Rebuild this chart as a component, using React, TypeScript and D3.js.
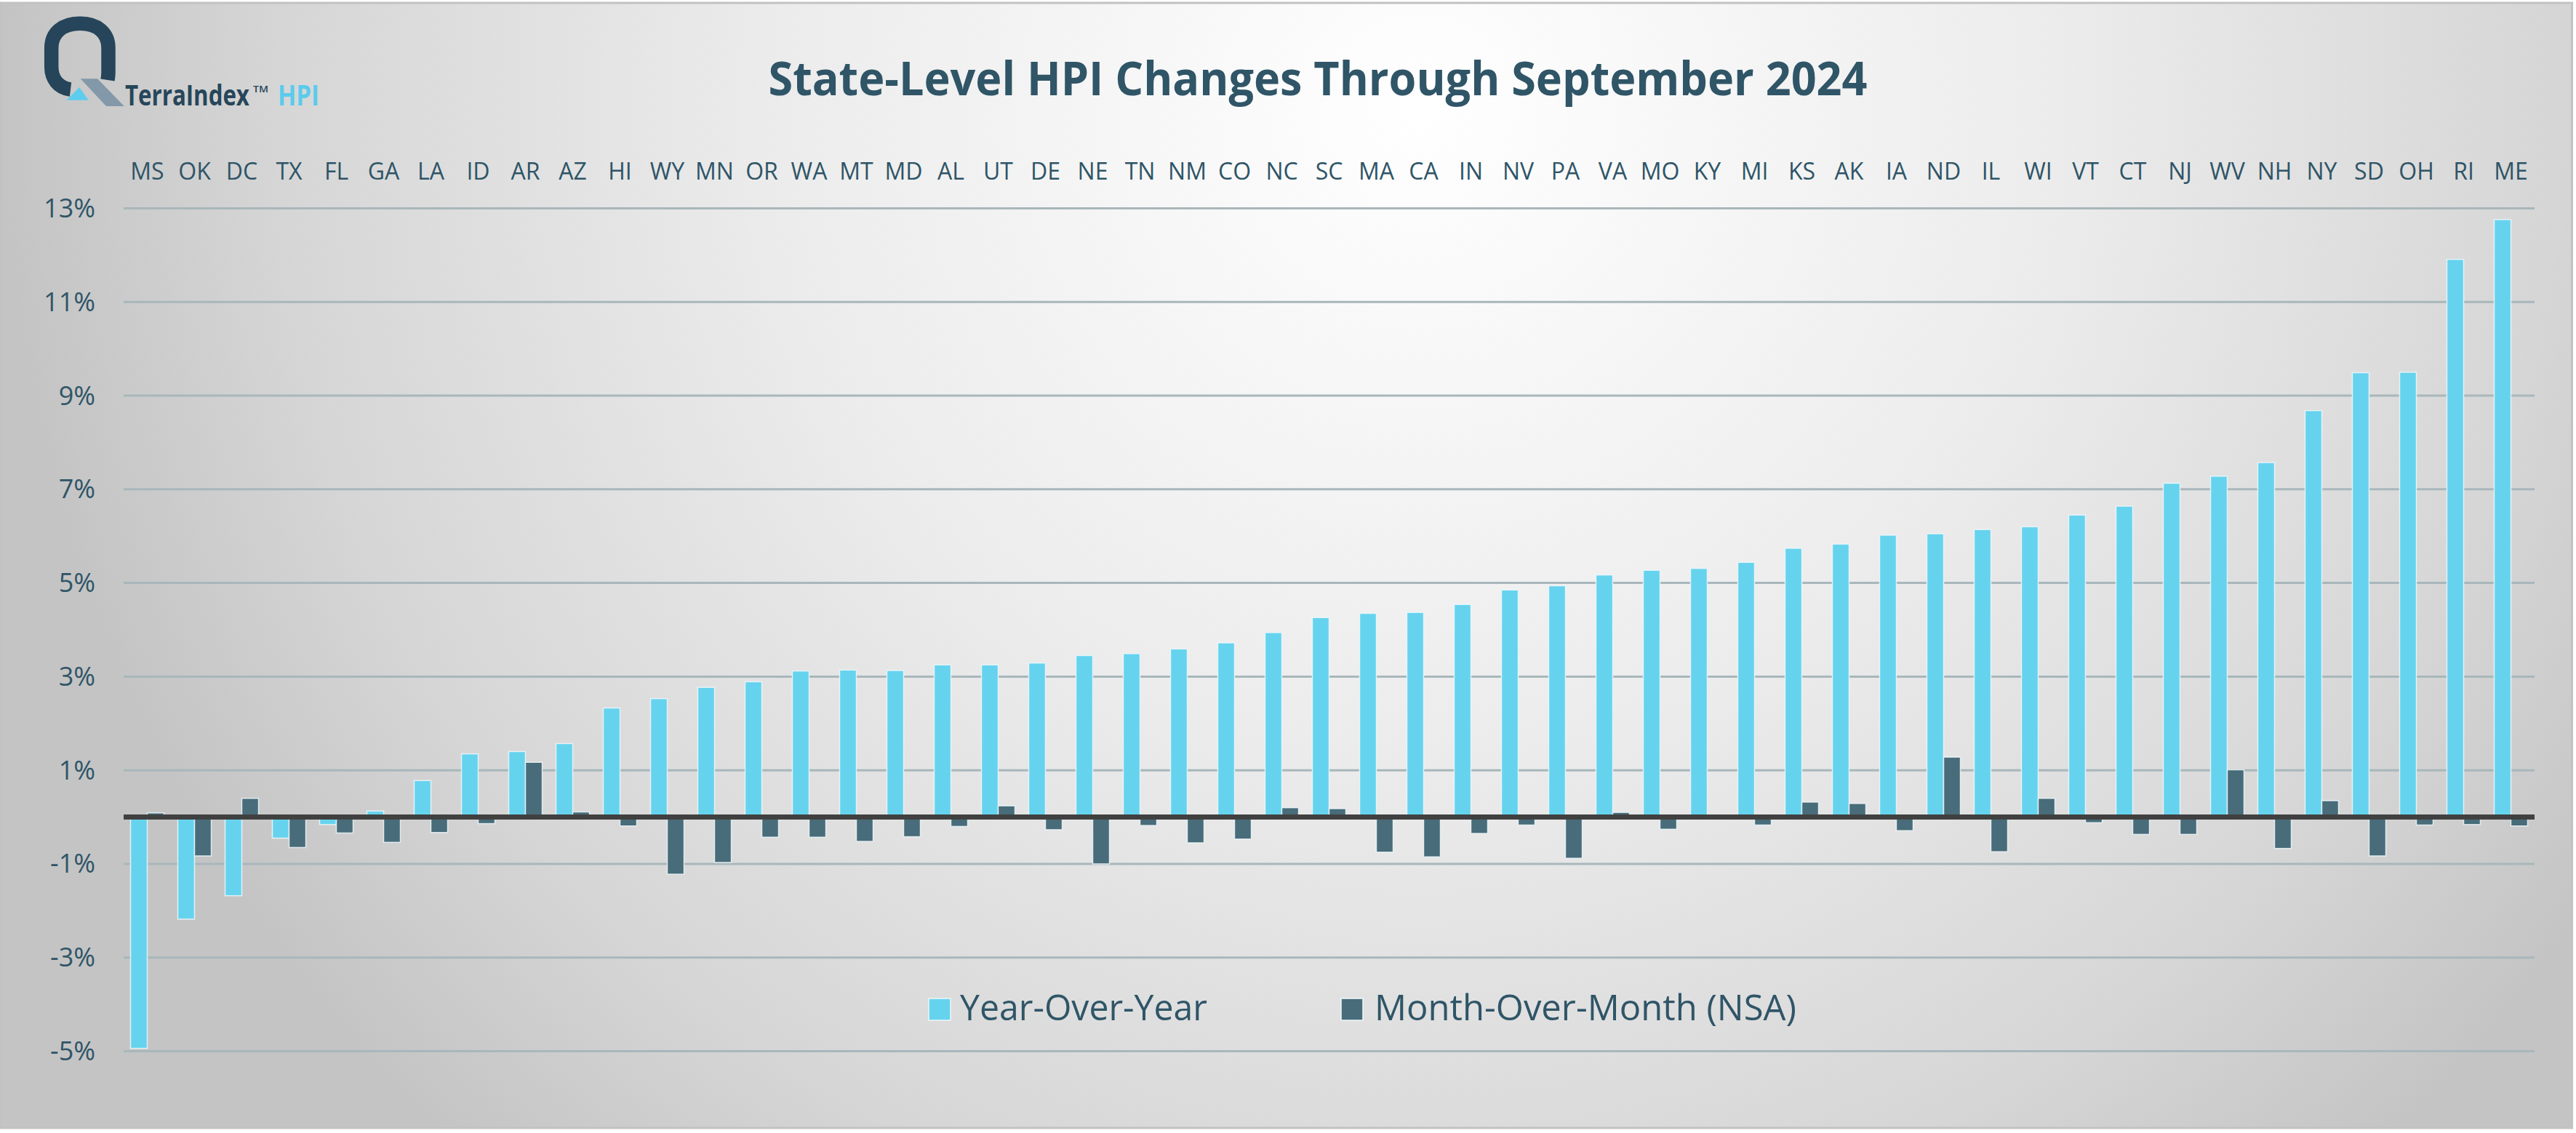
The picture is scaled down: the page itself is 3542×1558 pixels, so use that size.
import React, { useLayoutEffect, useRef, useState } from "react";
import * as d3 from "d3";

const states = ["MS","OK","DC","TX","FL","GA","LA","ID","AR","AZ","HI","WY","MN","OR","WA","MT","MD","AL","UT","DE","NE","TN","NM","CO","NC","SC","MA","CA","IN","NV","PA","VA","MO","KY","MI","KS","AK","IA","ND","IL","WI","VT","CT","NJ","WV","NH","NY","SD","OH","RI","ME"];

const yoy = [-4.94,-2.18,-1.68,-0.45,-0.16,0.13,0.78,1.35,1.40,1.57,
  2.33,2.53,2.77,2.89,3.12,3.14,3.13,3.25,3.25,3.29,3.45,3.49,3.59,3.72,3.94,4.26,4.35,4.37,4.54,4.85,
  4.94,5.17,5.27,5.31,5.44,5.74,5.83,6.02,6.05,6.14,6.20,6.45,6.64,7.13,7.28,7.57,8.68,9.49,9.50,11.91,12.76];

const mom = [0.09,-0.83,0.40,-0.65,-0.34,-0.54,-0.33,-0.14,1.17,0.11,
  -0.19,-1.22,-0.97,-0.43,-0.43,-0.52,-0.42,-0.20,0.24,-0.27,-1.00,-0.18,-0.55,-0.47,0.20,0.18,-0.75,-0.85,-0.35,-0.17,
  -0.88,0.10,-0.26,-0.02,-0.17,0.32,0.29,-0.29,1.28,-0.74,0.40,-0.12,-0.37,-0.37,1.01,-0.67,0.35,-0.83,-0.17,-0.16,-0.19];

const yTicks = [-5,-3,-1,1,3,5,7,9,11,13];
const seriesKeys = ["yoy","mom"];
const seriesNames = ["Year-Over-Year","Month-Over-Month (NSA)"];

const W = 3542, H = 1558;
const TEXT = "#2f5567";
const C_YOY = "#66d3ee";
const C_MOM = "#486c79";
const FONT = "'Open Sans', 'DejaVu Sans', sans-serif";

function FitText(props: { x: number; y: number; width: number; fontSize: number; fontWeight?: number; fill: string; children: string }) {
  const ref = useRef<SVGTextElement>(null);
  const [sx, setSx] = useState(1);
  useLayoutEffect(() => {
    if (ref.current) {
      const w = ref.current.getComputedTextLength();
      if (w > 0) setSx(props.width / w);
    }
  }, [props.width, props.children]);
  return (
    <text ref={ref} transform={`translate(${props.x},${props.y}) scale(${sx},1)`} fontSize={props.fontSize}
      fontWeight={props.fontWeight} fill={props.fill}>{props.children}</text>
  );
}

export default function App() {
  const x = d3.scaleBand<string>().domain(states).range([170, 3485]).padding(0);
  const xi = d3.scaleBand<string>().domain(seriesKeys).range([0, x.bandwidth()]).paddingInner(0).paddingOuter(0.413);
  const y = d3.scaleLinear().domain([-5, 13]).range([1445.5, 286.5]);
  const vals: Record<string, number[]> = { yoy, mom };
  const colors: Record<string, string> = { yoy: C_YOY, mom: C_MOM };

  return (
    <svg width={W} height={H} style={{ position: "absolute", left: 0, top: 0 }} fontFamily={FONT}>
      <defs>
        <radialGradient id="bg" gradientUnits="userSpaceOnUse" cx={1950} cy={150} r={1950}>
          <stop offset="0" stopColor="#ffffff" />
          <stop offset="0.45" stopColor="#ececec" />
          <stop offset="0.8" stopColor="#d6d6d6" />
          <stop offset="1" stopColor="#c4c4c4" />
        </radialGradient>
      </defs>
      <rect x={0} y={0} width={W} height={H} fill="#ffffff" />
      <rect x={1.5} y={4} width={3535} height={1547} fill="url(#bg)" stroke="#c2c2c2" strokeWidth={3} />

      {/* Logo */}
      <g>
        <path d="M 97,123 C 80,121 70.7,108 70.7,92 L 70.7,66 C 70.7,45 86,32.3 110,32.3 C 134,32.3 149,45 149,66 L 149,100 C 149,104 148.5,107 148,110"
          fill="none" stroke="#26455a" strokeWidth={19.5} />
        <polygon points="110.7,108.3 134,108.3 170.7,146 146,146" fill="#8398a8" />
        <polygon points="91.7,137.7 109,120 121.7,137.7" fill="#5ccdee" />
        <FitText x={172} y={145} width={171} fontSize={40} fontWeight={700} fill="#27465a">TerraIndex</FitText>
        <FitText x={348} y={127} width={21} fontSize={12} fontWeight={600} fill="#27465a">TM</FitText>
        <FitText x={382} y={145} width={57} fontSize={39} fontWeight={700} fill="#5bcbec">HPI</FitText>
      </g>

      {/* Title */}
      <text x={1812} y={131} textAnchor="middle" fontSize={64} fontWeight={700} fill={TEXT}
        textLength={1511} lengthAdjust="spacingAndGlyphs">State-Level HPI Changes Through September 2024</text>

      {/* Gridlines */}
      {yTicks.map((t) => (
        <line key={"g" + t} x1={170} x2={3485} y1={y(t)} y2={y(t)} stroke="#a8b7bb" strokeWidth={3} />
      ))}
      {/* Y labels */}
      {yTicks.map((t) => (
        <text key={"l" + t} x={131} y={y(t) + 12.5} textAnchor="end" fontSize={36} fill={TEXT}>{t + "%"}</text>
      ))}

      {/* Category labels */}
      {states.map((s) => (
        <text key={"c" + s} x={(x(s) as number) + x.bandwidth() / 2} y={246.5} textAnchor="middle" fontSize={32} fill={TEXT}>{s}</text>
      ))}

      {/* Bars */}
      {seriesKeys.map((k) => (
        <g key={k}>
          {states.map((s, i) => {
            const v = vals[k][i];
            const y0 = y(Math.max(0, v));
            const h = Math.abs(y(v) - y(0));
            return (
              <rect key={s} x={(x(s) as number) + (xi(k) as number)} y={y0} width={xi.bandwidth()} height={h}
                fill={colors[k]} stroke="#eef7fa" strokeWidth={1.5} strokeOpacity={0.85} />
            );
          })}
        </g>
      ))}

      {/* Zero line */}
      <line x1={170} x2={3485} y1={y(0)} y2={y(0)} stroke="#404040" strokeWidth={7} />

      {/* Legend */}
      <rect x={1277} y={1373} width={30} height={30} fill={C_YOY} stroke="#eef7fa" strokeWidth={1.5} />
      <text x={1320} y={1403} fontSize={50} fill={TEXT} textLength={340} lengthAdjust="spacingAndGlyphs">{seriesNames[0]}</text>
      <rect x={1844} y={1373} width={30} height={30} fill={C_MOM} stroke="#eef7fa" strokeWidth={1.5} />
      <text x={1890} y={1403} fontSize={50} fill={TEXT} textLength={580} lengthAdjust="spacingAndGlyphs">{seriesNames[1]}</text>
    </svg>
  );
}
